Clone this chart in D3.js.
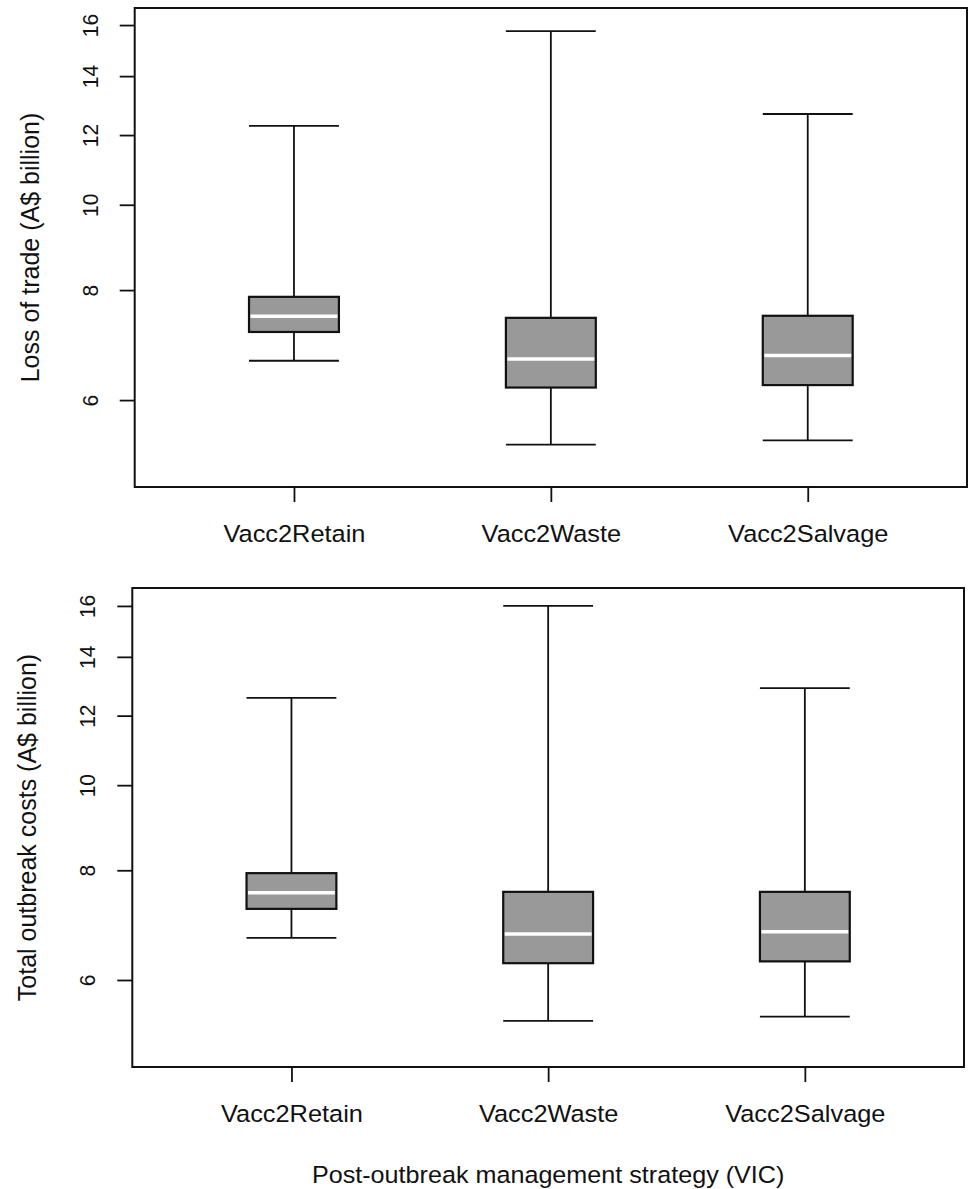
<!DOCTYPE html>
<html>
<head>
<meta charset="utf-8">
<script src="https://cdn.jsdelivr.net/npm/d3@7"></script>
<style>
  html, body { margin: 0; padding: 0; background: #fff; }
  svg { display: block; }
  text { font-family: "Liberation Sans", Arial, Helvetica, sans-serif; fill: #111; }
</style>
</head>
<body>
<svg id="chart" width="969" height="1189"></svg>
<script>
// Strategies compared
const categories = ["Vacc2Retain", "Vacc2Waste", "Vacc2Salvage"];

// Loss of trade (A$ billion): whisker ends, quartiles and medians
const tradeLower  = [6.65, 5.34, 5.40];
const tradeQ1     = [7.17, 6.20, 6.24];
const tradeMedian = [7.47, 6.68, 6.74];
const tradeQ3     = [7.86, 7.44, 7.48];
const tradeUpper  = [12.29, 15.75, 12.68];

// Total outbreak costs (A$ billion)
const costLower  = [6.70, 5.39, 5.45];
const costQ1     = [7.23, 6.27, 6.30];
const costMedian = [7.54, 6.77, 6.81];
const costQ3     = [7.94, 7.56, 7.56];
const costUpper  = [12.57, 16.00, 12.90];

// Axis ticks and titles
const yTicks = [6, 8, 10, 12, 14, 16];
const yTitles = ["Loss of trade (A$ billion)", "Total outbreak costs (A$ billion)"];
const xTitle = "Post-outbreak management strategy (VIC)";

const svg = d3.select("#chart");
const stretch = 1.08; // glyphs are drawn slightly wide

function buildStats(lo, q1, med, q3, hi) {
  return categories.map((c, i) => ({
    cat: c, idx: i + 1, lo: lo[i], q1: q1[i], med: med[i], q3: q3[i], hi: hi[i]
  }));
}

const panels = [
  { frame: { left: 134.7, right: 967, top: 8, bottom: 487 },
    yDomain: [4.78, 16.73], title: yTitles[0],
    stats: buildStats(tradeLower, tradeQ1, tradeMedian, tradeQ3, tradeUpper) },
  { frame: { left: 132.3, right: 964, top: 588, bottom: 1067 },
    yDomain: [4.776, 16.77], title: yTitles[1],
    stats: buildStats(costLower, costQ1, costMedian, costQ3, costUpper) }
];

panels.forEach(p => {
  const f = p.frame;
  const g = svg.append("g");

  const x = d3.scaleLinear().domain([0.38, 3.62]).range([f.left, f.right]);
  const y = d3.scaleLog().domain(p.yDomain).range([f.bottom, f.top]);
  const halfW = 0.175;

  // Boxes
  const box = g.selectAll("g.box").data(p.stats).join("g").attr("class", "box");

  // whisker stems
  box.append("line")
    .attr("x1", d => x(d.idx)).attr("x2", d => x(d.idx))
    .attr("y1", d => y(d.hi)).attr("y2", d => y(d.q3))
    .attr("stroke", "#111").attr("stroke-width", 1.8);
  box.append("line")
    .attr("x1", d => x(d.idx)).attr("x2", d => x(d.idx))
    .attr("y1", d => y(d.q1)).attr("y2", d => y(d.lo))
    .attr("stroke", "#111").attr("stroke-width", 1.8);
  // whisker caps
  ["hi", "lo"].forEach(k => {
    box.append("line")
      .attr("x1", d => x(d.idx - halfW)).attr("x2", d => x(d.idx + halfW))
      .attr("y1", d => y(d[k])).attr("y2", d => y(d[k]))
      .attr("stroke", "#111").attr("stroke-width", 1.8);
  });
  // interquartile box
  box.append("rect")
    .attr("x", d => x(d.idx - halfW))
    .attr("width", d => x(d.idx + halfW) - x(d.idx - halfW))
    .attr("y", d => y(d.q3))
    .attr("height", d => y(d.q1) - y(d.q3))
    .attr("fill", "#999999").attr("stroke", "#111").attr("stroke-width", 2.2);
  // median
  box.append("line")
    .attr("x1", d => x(d.idx - halfW) + 1.5).attr("x2", d => x(d.idx + halfW) - 1.5)
    .attr("y1", d => y(d.med)).attr("y2", d => y(d.med))
    .attr("stroke", "#fff").attr("stroke-width", 3.5);

  // Frame
  g.append("rect")
    .attr("x", f.left).attr("y", f.top)
    .attr("width", f.right - f.left).attr("height", f.bottom - f.top)
    .attr("fill", "none").attr("stroke", "#111").attr("stroke-width", 2);

  // Y axis (ticks outward, labels parallel to the axis)
  const yAxis = d3.axisLeft(y).tickValues(yTicks).tickSize(15).tickFormat(d3.format("d"));
  const ya = g.append("g").attr("transform", `translate(${f.left},0)`).call(yAxis);
  ya.select(".domain").remove();
  ya.selectAll(".tick line").attr("stroke", "#111").attr("stroke-width", 1.8);
  ya.selectAll(".tick text")
    .attr("x", null).attr("dy", null)
    .attr("text-anchor", "middle")
    .attr("font-size", 21)
    .attr("fill", "#111")
    .attr("transform", `translate(-37,0) scale(${stretch},1) rotate(-90)`);

  // X axis
  const xAxis = d3.axisBottom(x).tickValues([1, 2, 3]).tickSize(15)
    .tickFormat(d => categories[d - 1]);
  const xa = g.append("g").attr("transform", `translate(0,${f.bottom})`).call(xAxis);
  xa.select(".domain").remove();
  xa.selectAll(".tick line").attr("stroke", "#111").attr("stroke-width", 1.8);
  xa.selectAll(".tick text")
    .attr("y", null).attr("dy", null)
    .attr("font-size", 23.5)
    .attr("fill", "#111")
    .attr("transform", `translate(0,54.7) scale(${stretch},1)`);

  // Y title
  g.append("text")
    .attr("text-anchor", "middle")
    .attr("font-size", 25)
    .attr("transform", `translate(${f.left - 96},${(f.top + f.bottom) / 2}) rotate(-90)`)
    .text(p.title);
});

// Shared x title
const fb = panels[1].frame;
svg.append("text")
  .attr("text-anchor", "middle")
  .attr("font-size", 23.3)
  .attr("transform", `translate(${(fb.left + fb.right) / 2},1183) scale(${stretch},1)`)
  .text(xTitle);
</script>
</body>
</html>
